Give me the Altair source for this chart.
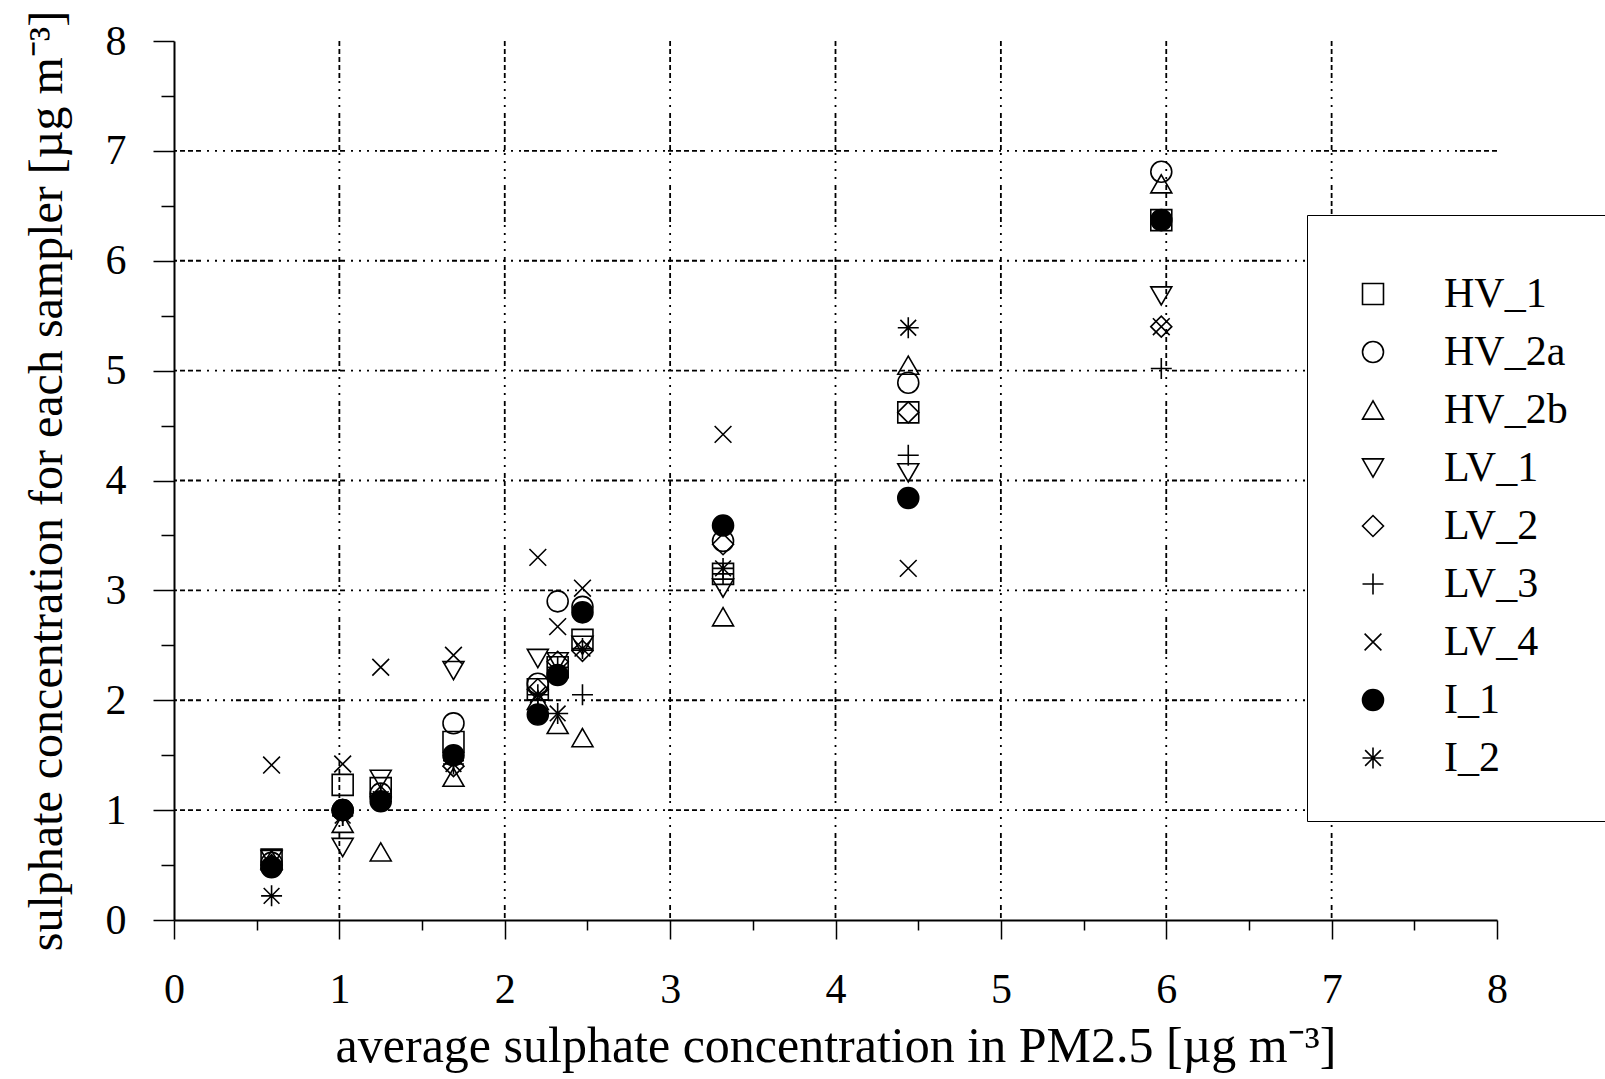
import altair as alt
import pandas as pd

x_avg = [0.59, 1.02, 1.25, 1.69, 2.20, 2.32, 2.47, 3.32, 4.44, 5.97]

HV_1 = [0.55, 1.23, 1.20, 1.62, 2.10, 2.30, 2.55, 3.15, 4.62, 6.37]
HV_2a = [0.52, 1.00, 1.15, 1.79, 2.15, 2.90, 2.85, 3.45, 4.89, 6.81]
HV_2b = [0.55, 0.88, 0.62, 1.30, 2.00, 1.78, 1.66, 2.76, 5.05, 6.70]
LV_1 = [0.55, 0.66, 1.28, 2.27, 2.38, 2.35, 2.50, 3.02, 4.07, 5.68]
LV_2 = [0.50, 1.00, 1.12, 1.40, 2.10, 2.35, 2.45, 3.42, 4.62, 5.40]
LV_3 = [0.50, 0.95, 1.15, 1.45, 2.00, 2.30, 2.05, 3.15, 4.23, 5.02]
LV_4 = [1.41, 1.42, 2.30, 2.41, 3.30, 2.67, 3.02, 4.42, 3.20, 5.40]
I_1 = [0.48, 1.00, 1.08, 1.50, 1.87, 2.23, 2.80, 3.59, 3.84, 6.37]
I_2 = [0.22, 0.95, 1.10, 1.42, 2.05, 1.88, 2.47, 3.20, 5.39, 6.37]

samplers = ["HV_1", "HV_2a", "HV_2b", "LV_1", "LV_2", "LV_3", "LV_4", "I_1", "I_2"]
values = [HV_1, HV_2a, HV_2b, LV_1, LV_2, LV_3, LV_4, I_1, I_2]

grid_vals = [1, 2, 3, 4, 5, 6, 7]
major_ticks = [0, 1, 2, 3, 4, 5, 6, 7, 8]
minor_ticks = [0.5, 1.5, 2.5, 3.5, 4.5, 5.5, 6.5, 7.5]

rows = []
for name, vals in zip(samplers, values):
    for xv, yv in zip(x_avg, vals):
        rows.append({"x": xv, "y": yv, "sampler": name})
df = pd.DataFrame(rows)
gdf = pd.DataFrame({"g": grid_vals})
mdf = pd.DataFrame({"m": minor_ticks})

shapes = [
    "square",
    "circle",
    "triangle-up",
    "triangle-down",
    "diamond",
    "M-1,0L1,0M0,-1L0,1",
    "M-0.8,-0.8L0.8,0.8M-0.8,0.8L0.8,-0.8",
    "circle",
    "M-1,0L1,0M0,-1L0,1M-0.75,-0.75L0.75,0.75M-0.75,0.75L0.75,-0.75",
]
fills = ["transparent"] * 7 + ["black", "transparent"]
strokes = ["black"] * 9

FONT = "Liberation Serif"
DASH = [5, 3, 5, 3, 5, 3, 5, 3, 5, 3, 2, 6, 2, 6, 2, 6, 2, 6]

xscale = alt.Scale(domain=[0, 8], nice=False, zero=False)
yscale = alt.Scale(domain=[0, 8], nice=False, zero=False)

common = dict(
    grid=False, labelFont=FONT, labelFontSize=42, labelColor="black",
    titleFont=FONT, titleFontWeight="normal", titleColor="black",
    domainColor="black", domainWidth=2, tickColor="black", tickWidth=1.5,
    labelFlush=False, labelOverlap=False,
)
xaxis = alt.Axis(values=major_ticks, tickSize=19, labelPadding=30, titlePadding=11,
                 titleFontSize=50,
                 title="average sulphate concentration in PM2.5 [µg m⁻³]", **common)
yaxis = alt.Axis(values=major_ticks, tickSize=21, labelPadding=27, titlePadding=34,
                 titleFontSize=48,
                 title="sulphate concentration for each sampler [µg m⁻³]", **common)

minor_common = dict(grid=False, labels=False, domain=False, title=None,
                    tickColor="black", tickWidth=1.5)
xminor = alt.Axis(values=minor_ticks, orient="bottom", tickSize=10, **minor_common)
yminor = alt.Axis(values=minor_ticks, orient="left", tickSize=13, **minor_common)

LABEL_EXPR = "datum.label + '\u00a0\u00a0\u00a0\u00a0\u00a0\u00a0'"

def leg():
    return alt.Legend(title=" ", labelExpr=LABEL_EXPR)

points = alt.Chart(df).mark_point(filled=False, strokeWidth=1.6, size=440, opacity=1).encode(
    x=alt.X("x:Q", scale=xscale, axis=xaxis),
    y=alt.Y("y:Q", scale=yscale, axis=yaxis),
    shape=alt.Shape("sampler:N", scale=alt.Scale(domain=samplers, range=shapes), legend=leg()),
    fill=alt.Fill("sampler:N", scale=alt.Scale(domain=samplers, range=fills), legend=leg()),
    stroke=alt.Stroke("sampler:N", scale=alt.Scale(domain=samplers, range=strokes), legend=leg()),
)

vgrid = alt.Chart(gdf).mark_rule(color="black", strokeWidth=1.8, strokeDash=DASH).encode(
    x=alt.X("g:Q", scale=xscale, axis=None)
)
hgrid = alt.Chart(gdf).mark_rule(color="black", strokeWidth=1.8, strokeDash=DASH).encode(
    y=alt.Y("g:Q", scale=yscale, axis=None)
)
minor = alt.Chart(mdf).mark_point(opacity=0).encode(
    x=alt.X("m:Q", scale=xscale, axis=xminor),
    y=alt.Y("m:Q", scale=yscale, axis=yminor),
)

chart = alt.layer(points, vgrid, hgrid, minor).resolve_axis(
    x="independent", y="independent"
).properties(
    width=1323, height=879,
    autosize=alt.AutoSizeParams(type="none"),
    padding={"left": 174, "top": 41, "right": 108, "bottom": 159},
    background="white",
).configure_view(stroke=None).configure_legend(
    orient="none", legendX=1133, legendY=174,
    strokeColor="black", fillColor="white", padding=42,
    titleFontSize=8, titlePadding=8, titleFont=FONT,
    labelFont=FONT, labelFontSize=42, labelColor="black", labelOffset=50,
    symbolSize=440, symbolStrokeWidth=1.6, symbolOffset=3,
    rowPadding=16, labelLimit=600,
)

chart.save("out.html", embed_options={"renderer": "svg", "actions": False})
